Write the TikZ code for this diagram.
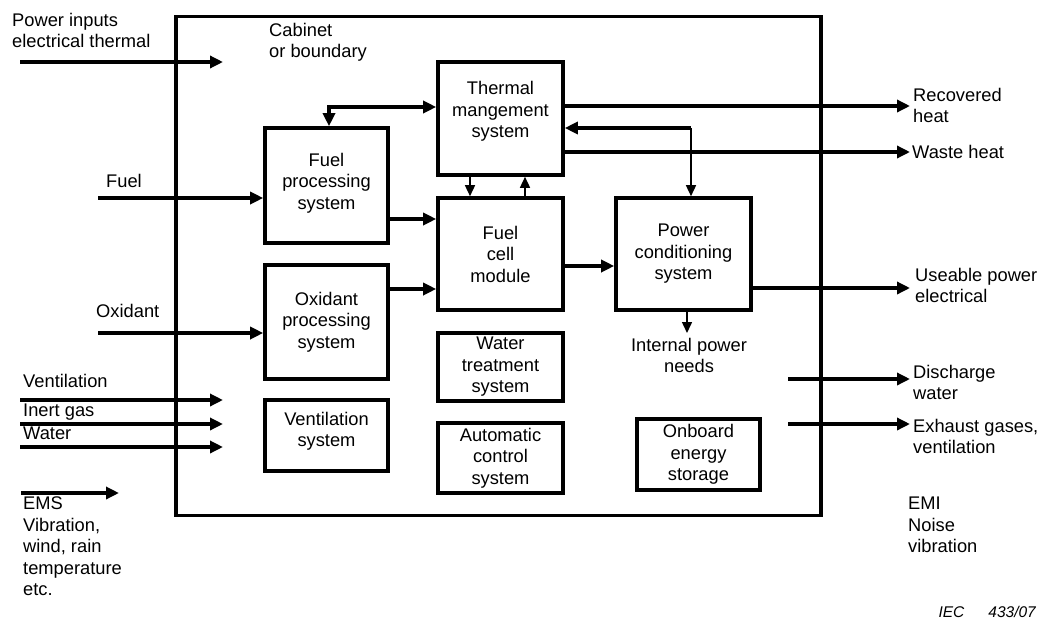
\documentclass[tikz,border=0pt]{standalone}
\usepackage{fontspec}
\setmainfont{Liberation Sans}
\usepackage{xcolor}
\usepackage{tikz}
\usetikzlibrary{arrows.meta}
\definecolor{inkCol}{RGB}{0,0,0}
\newcommand{\Lsz}{\fontsize{18.3}{21.5}\selectfont}
\tikzset{
  cabinet/.style={draw=inkCol, line width=3.6pt, inner sep=0pt},
  blk/.style={draw=inkCol, line width=3.6pt, align=center,
              font=\Lsz, inner sep=0pt},
  txt/.style={anchor=north west, align=left, font=\Lsz, inner sep=0pt},
  flow/.style={-{Triangle[length=13pt,width=12pt]}, line width=3.6pt, inkCol},
  flowboth/.style={{Triangle[length=13pt,width=12pt]}-{Triangle[length=13pt,width=12pt]},
                   line width=3.6pt, inkCol},
  ctl/.style={-{Triangle[length=11pt,width=10pt]}, line width=1.5pt, inkCol},
}

\begin{document}
\begin{tikzpicture}[x=1pt,y=-1pt]
  \useasboundingbox (0,0) rectangle (1040,621);

  % boundary
  \node[cabinet, minimum width=645pt, minimum height=499pt] (cab) at (498.5,266) {};

  % blocks
  \node[blk, minimum width=125pt, minimum height=113pt, text depth=18pt] (thermal) at (500.5,118.5) {Thermal\\mangement\\system};
  \node[blk, minimum width=123pt, minimum height=115pt, text depth=9pt] (fuelproc) at (326.5,185.5) {Fuel\\processing\\system};
  \node[blk, minimum width=125pt, minimum height=112pt] (fuelcell) at (500.5,254) {Fuel\\cell\\module};
  \node[blk, minimum width=135pt, minimum height=112pt] (powercond) at (683.5,254) {Power\\conditioning\\system};
  \node[blk, minimum width=123pt, minimum height=114pt] (oxproc) at (326.5,322) {Oxidant\\processing\\system};
  \node[blk, minimum width=125pt, minimum height=68pt] (water) at (500.5,367) {Water\\treatment\\system};
  \node[blk, minimum width=123pt, minimum height=71pt, text depth=12pt] (ventsys) at (326.5,435.5) {Ventilation\\system};
  \node[blk, minimum width=125pt, minimum height=70pt] (autoctrl) at (500.5,458) {Automatic\\control\\system};
  \node[blk, minimum width=123pt, minimum height=71pt] (storage) at (698.5,454.5) {Onboard\\energy\\storage};

  % labels
  \node[txt] (pwrlbl) at (12,13) {Power inputs\\electrical thermal};
  \node[txt] (cablbl) at (269,23) {Cabinet\\or boundary};
  \node[txt] (fuellbl) at (106,174) {Fuel};
  \node[txt] (oxlbl) at (96,304) {Oxidant};
  \node[txt] (ventlbl) at (23,374) {Ventilation};
  \node[txt] (inertlbl) at (23,404) {Inert gas};
  \node[txt] (waterlbl) at (23,427) {Water};
  \node[txt] (emslbl) at (23,497) {EMS\\Vibration,\\wind, rain\\temperature\\etc.};
  \node[txt] (reclbl) at (913,88) {Recovered\\heat};
  \node[txt] (wastelbl) at (912,145) {Waste heat};
  \node[txt] (uselbl) at (915,268) {Useable power\\electrical};
  \node[txt, anchor=north, align=center] (ipnlbl) at (689,338) {Internal power\\needs};
  \node[txt] (dislbl) at (913,365) {Discharge\\water};
  \node[txt] (exhlbl) at (913,419) {Exhaust gases,\\ventilation};
  \node[txt] (emilbl) at (908,497) {EMI\\Noise\\vibration};
  \node[font=\fontsize{15.5}{18}\selectfont\itshape, anchor=base east, inner sep=0pt] (ieclbl)
    at (1036,617) {IEC\hspace{24pt}433/07};

  % inputs from the left
  \coordinate (pwrA) at (20,62);   \coordinate (pwrB) at (223,62);
  \coordinate (fuelA) at (98,198);
  \coordinate (oxA) at (98,333);
  \coordinate (ventA) at (20,400); \coordinate (ventB) at (223,400);
  \coordinate (inertA) at (20,424); \coordinate (inertB) at (223,424);
  \coordinate (wtrA) at (20,447);  \coordinate (wtrB) at (223,447);
  \coordinate (emsA) at (21,493);  \coordinate (emsB) at (119,493);
  \draw[flow] (pwrA) -- (pwrB);
  \draw[flow] (fuelA) -- (fuelA -| fuelproc.west);
  \draw[flow] (oxA) -- (oxA -| oxproc.west);
  \draw[flow] (ventA) -- (ventB);
  \draw[flow] (inertA) -- (inertB);
  \draw[flow] (wtrA) -- (wtrB);
  \draw[flow] (emsA) -- (emsB);

  % thermal <-> fuel processing
  \coordinate (tfA) at (329,107);
  \draw[flowboth] (tfA |- fuelproc.north) -- (tfA) -- (tfA -| thermal.west);
  % processing -> fuel cell
  \coordinate (fpfc) at (410,219);
  \coordinate (opfc) at (410,289);
  \draw[flow] (fpfc -| fuelproc.east) -- (fpfc -| fuelcell.west);
  \draw[flow] (opfc -| oxproc.east) -- (opfc -| fuelcell.west);
  % thermal <-> fuel cell
  \coordinate (tdn) at (470,186);
  \coordinate (tup) at (525,186);
  \draw[ctl] (tdn |- thermal.south) -- (tdn |- fuelcell.north);
  \draw[ctl] (tup |- fuelcell.north) -- (tup |- thermal.south);
  % thermal -> outputs
  \coordinate (recB) at (910,106);
  \coordinate (wasteB) at (910,152);
  \draw[flow] (recB -| thermal.east) -- (recB);
  \draw[flow] (wasteB -| thermal.east) -- (wasteB);
  % power conditioning <-> thermal
  \coordinate (pcT) at (691,128);
  \draw[flow] (pcT) -- (pcT -| thermal.east);
  \draw[ctl] (pcT) -- (pcT |- powercond.north);
  % fuel cell -> power conditioning
  \coordinate (fcpc) at (590,266);
  \draw[flow] (fcpc -| fuelcell.east) -- (fcpc -| powercond.west);
  % power conditioning -> outputs
  \coordinate (useB) at (910,288);
  \coordinate (ipnB) at (687,333);
  \draw[flow] (useB -| powercond.east) -- (useB);
  \draw[ctl] (ipnB |- powercond.south) -- (ipnB);
  % discharge and exhaust
  \coordinate (disA) at (788,379); \coordinate (disB) at (910,379);
  \coordinate (exhA) at (788,424); \coordinate (exhB) at (910,424);
  \draw[flow] (disA) -- (disB);
  \draw[flow] (exhA) -- (exhB);
\end{tikzpicture}
\end{document}
